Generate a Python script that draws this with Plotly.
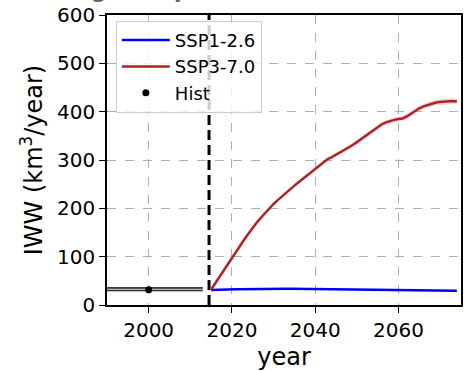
import plotly.graph_objects as go

# ---------------- data ----------------
years_ssp = list(range(2015, 2075))
ssp126 = [31, 31.5, 31.8, 32, 32.2, 32.4, 32.6, 32.8, 33, 33, 33.1, 33.2, 33.3, 33.4, 33.5, 33.5,
          33.5, 33.6, 33.6, 33.5, 33.4, 33.3, 33.2, 33.1, 33, 32.8, 32.7, 32.6, 32.4, 32.3,
          32.1, 32, 31.8, 31.6, 31.4, 31.2, 31, 30.9, 30.8, 30.7, 30.6, 30.6, 30.5, 30.5,
          30.5, 30.5, 30.5, 30.5, 30.5, 30.5, 30.4, 30.3, 30.2, 30.1, 30, 30, 29.9, 29.8, 29.7, 29.6]
ssp370 = [32, 45, 58, 72, 86, 99, 112, 124, 136, 148, 160, 171, 181, 191, 201, 209, 217, 225,
          232, 240, 247, 254, 261, 268, 275, 282, 289, 296, 302, 306, 311, 316, 321, 325, 331,
          337, 343, 350, 356, 362, 368, 374, 378, 381, 383, 385, 386, 390, 396, 402, 407, 411,
          414, 417, 419, 420, 421, 421, 422, 421]
ssp370_spread = [0.5, 1, 1, 1.5, 1.5, 1.5, 2, 2, 2, 2, 2, 2, 2.5, 2.5, 2.5, 2.5, 2.5, 2.5,
                 3, 3, 3, 3, 3, 3, 3, 3, 3, 3, 3.5, 3.5, 3.5, 3.5, 4, 4, 4, 4, 4, 4, 4, 4.5,
                 4.5, 4.5, 4.5, 4.5, 4.5, 5, 5, 5, 5, 5.5, 5.5, 5.5, 5.5, 6, 6, 6, 6, 6, 6, 6]
hist_years = [1990, 2013]
hist_low = [29.5, 29.5]
hist_high = [35.5, 35.5]
hist_point_year = [2000]
hist_point_val = [31.5]
scenario_start = [2014.5, 2014.5]
scenario_span = [0, 600]

x_ticks = [2000, 2020, 2040, 2060]
y_ticks = [0, 100, 200, 300, 400, 500, 600]

FONT = "DejaVu Sans"

fig = go.Figure()

# hist band
fig.add_trace(go.Scatter(x=hist_years, y=hist_low, mode="lines",
                         line=dict(color="black", width=1.2), showlegend=False, hoverinfo="skip"))
fig.add_trace(go.Scatter(x=hist_years, y=hist_high, mode="lines", fill="tonexty",
                         fillcolor="rgba(128,128,128,0.6)",
                         line=dict(color="black", width=1.2), showlegend=False, hoverinfo="skip"))

# SSP3-7.0 band
lo = [v - s for v, s in zip(ssp370, ssp370_spread)]
hi = [v + s for v, s in zip(ssp370, ssp370_spread)]
fig.add_trace(go.Scatter(x=years_ssp, y=lo, mode="lines", line=dict(width=0),
                         showlegend=False, hoverinfo="skip"))
fig.add_trace(go.Scatter(x=years_ssp, y=hi, mode="lines", line=dict(width=0), fill="tonexty",
                         fillcolor="rgba(220,120,130,0.3)", showlegend=False, hoverinfo="skip"))

# vertical dashed line (as a trace so the legend covers it)
fig.add_trace(go.Scatter(x=scenario_start, y=scenario_span, mode="lines",
                         line=dict(color="black", width=3, dash="10px,5px"),
                         showlegend=False, hoverinfo="skip"))

fig.add_trace(go.Scatter(x=years_ssp, y=ssp126, mode="lines", name="SSP1-2.6",
                         line=dict(color="#0000ff", width=2.5)))
fig.add_trace(go.Scatter(x=years_ssp, y=ssp370, mode="lines", name="SSP3-7.0",
                         line=dict(color="#b22222", width=2.5)))
fig.add_trace(go.Scatter(x=hist_point_year, y=hist_point_val, mode="markers", name="Hist",
                         marker=dict(color="black", size=7)))

axis_common = dict(
    showline=True, linecolor="black", linewidth=1.5, mirror=True,
    ticks="outside", ticklen=6, tickwidth=1.3, tickcolor="black",
    showgrid=True, gridcolor="#b0b0b0", gridwidth=1, griddash="dash",
    zeroline=False,
    tickfont=dict(family=FONT, size=20, color="black"),
)

fig.update_xaxes(range=[1990, 2075], tickvals=x_ticks,
                 title=dict(text="year", font=dict(family=FONT, size=24, color="black"), standoff=8),
                 **axis_common)
fig.update_yaxes(range=[0, 600], tickvals=y_ticks,
                 title=dict(text="IWW (km<sup>3</sup>/year)", font=dict(family=FONT, size=24, color="black"),
                            standoff=8),
                 **axis_common)

fig.add_annotation(text="<b>g Group 5</b>", xref="paper", yref="paper",
                   x=-0.052, y=1.034, xanchor="left", yanchor="bottom", showarrow=False,
                   font=dict(family=FONT, size=22, color="#666666"))

fig.update_layout(
    width=464, height=371,
    margin=dict(l=107, r=1, t=15, b=66),
    paper_bgcolor="white", plot_bgcolor="white",
    font=dict(family=FONT, color="black"),
    legend=dict(x=0.025, y=0.98, xanchor="left", yanchor="top", traceorder="normal",
                itemwidth=48,
                bgcolor="rgba(255,255,255,0.8)", bordercolor="#cccccc", borderwidth=1,
                font=dict(family=FONT, size=18, color="black"), tracegroupgap=0),
)

fig.write_html("out.html")
